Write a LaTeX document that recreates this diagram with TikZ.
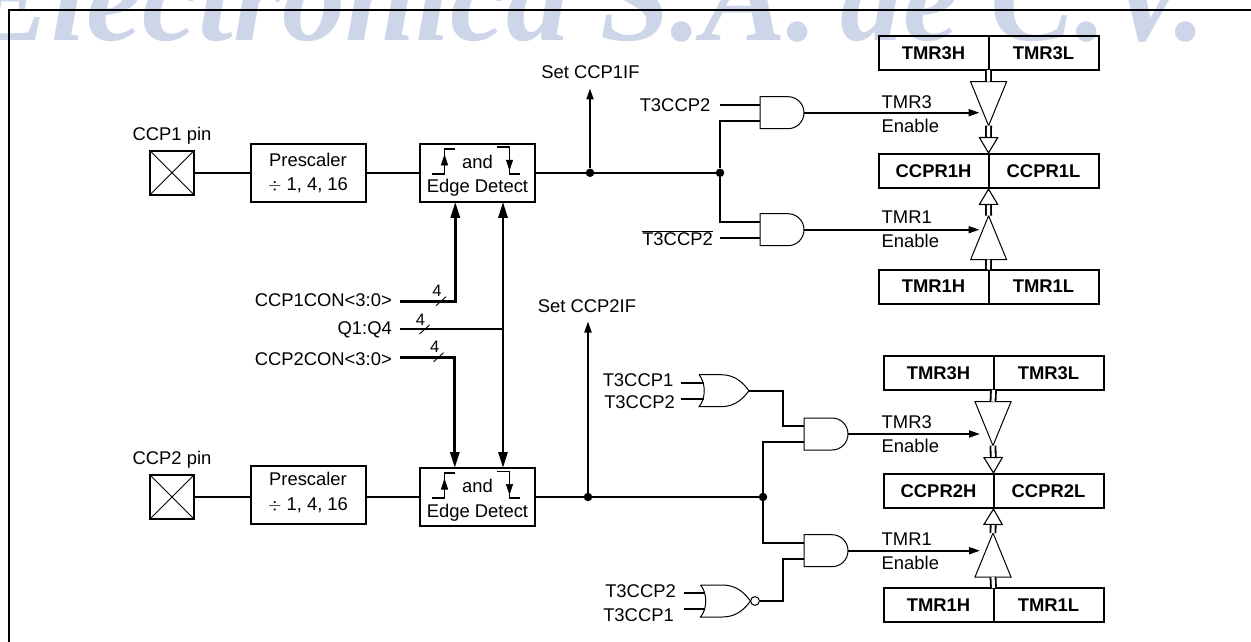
\documentclass[tikz,border=0pt]{standalone}
\usepackage{fontspec}
\setmainfont{Liberation Sans}
\newfontfamily\markfont{Liberation Serif}
\usepackage{xcolor}
\usepackage{tikz}
\usetikzlibrary{shapes.geometric, arrows.meta, positioning}
\definecolor{markblue}{HTML}{CDD6E8}
\tikzset{
  lbl/.style={inner sep=0pt, font=\fontsize{18.4}{24.5}\selectfont, align=center},
  wmark/.style={anchor=base east, inner sep=0pt, text=markblue, font=\fontsize{126}{126}\selectfont\markfont\bfseries\itshape},
  pin/.style={rectangle, draw, line width=2pt, minimum width=44pt, minimum height=44pt, inner sep=0pt, outer sep=0pt,
    path picture={\draw[line width=0.9pt] (path picture bounding box.north west)--(path picture bounding box.south east)
      (path picture bounding box.north east)--(path picture bounding box.south west);}},
  block/.style={rectangle, draw, line width=2pt, minimum width=115pt, minimum height=58pt, align=center, inner sep=0pt, outer sep=0pt, font=\fontsize{18.4}{24.5}\selectfont},
  reg/.style={rectangle, draw, line width=2pt, minimum width=110pt, minimum height=34pt, inner sep=0pt, outer sep=0pt, font=\fontsize{18.4}{22}\selectfont\bfseries},
  gatebox/.style={rectangle, minimum height=32pt, inner sep=0pt, outer sep=0pt},
  gateline/.style={line width=1pt},
  buf/.style={isosceles triangle, isosceles triangle stretches, draw, line width=1pt, minimum width=36pt, minimum height=44pt, inner sep=0pt, outer sep=0pt},
  dot/.style={circle, fill=black, minimum size=8.5pt, inner sep=0pt},
  wire/.style={line width=1.9pt},
  arr/.style={-{Triangle[length=11pt,width=7pt]}, line width=1.9pt},
  bus/.style={line width=2.8pt},
  busarr/.style={-{Triangle[length=16pt,width=9pt]}, line width=2.8pt},
  dbl/.style={double, double distance=3.2pt, line width=1.8pt},
  dblarr/.style={double, double distance=3.2pt, line width=1.8pt, -{Triangle[open, fill=white, length=17pt, width=20pt, line width=1.1pt]}},
}
\begin{document}
\begin{tikzpicture}[x=1pt,y=-1pt]
\useasboundingbox (0,0) rectangle (1251,642);
\node[wmark] (mark1) at (818,41) {Electronica S.A.};
\node[wmark] (mark2) at (1206,41) {de C.V.};
\draw[line width=1.8pt] (9,642) -- (9,10) -- (1251,10);

\node[pin] (pin1) at (172,172.8) {};
\node[block, right=56.5pt of pin1] (pre1) {Prescaler\\\(\div\) 1, 4, 16};
\node[block, right=54.5pt of pre1] (edge1) {};
\node[lbl] (edgetxt1) at ([yshift=-3pt]edge1.center) {and\\Edge Detect};
\node[lbl, above=6pt of pin1] (pinlbl1) {CCP1 pin};
\node[pin] (pin2) at (172,497) {};
\node[block, anchor=west] (pre2) at (250.5,494.5) {};
\node[lbl] (pretxt2) at ([yshift=2pt]pre2.center) {Prescaler\\\(\div\) 1, 4, 16};
\node[block, right=54.5pt of pin2 -| pre2.east] (edge2) {};
\node[lbl] (edgetxt2) at ([yshift=-3pt]edge2.center) {and\\Edge Detect};
\node[lbl, above=6pt of pin2] (pinlbl2) {CCP2 pin};

\foreach \e in {edge1,edge2} {
  \begin{scope}[shift={(\e.north west)}]
    \draw[wire] (11.5,30.3) -- (24.5,30.3) -- (24.5,5) -- (35,5);
    \draw[wire] (77,3.5) -- (89.5,3.5) -- (89.5,30.3) -- (100,30.3);
    \draw[-{Triangle[length=11pt,width=7pt]}, line width=0.6pt] (24.5,23) -- (24.5,10.5);
    \draw[-{Triangle[length=11pt,width=7pt]}, line width=0.6pt] (89.5,12) -- (89.5,27);
  \end{scope}
}

\node[dot] (j1) at (590,172.8) {};
\node[dot] (j2) at (720,172.8) {};
\node[dot] (j3) at (588,497) {};
\node[dot] (j4) at (763,497) {};
\draw[wire] (pin1) -- (pre1); \draw[wire] (pre1) -- (edge1); \draw[wire] (edge1) -- (j1); \draw[wire] (j1) -- (j2);
\draw[wire] (pin2) -- (pin2 -| pre2.west); \draw[wire] (pin2 -| pre2.east) -- (edge2); \draw[wire] (edge2) -- (j3); \draw[wire] (j3) -- (j4);

\node[lbl] (set1) at (590.5,72) {Set CCP1IF};
\node[lbl] (set2) at (587,306.5) {Set CCP2IF};
\coordinate (s1) at (590,88.5);
\coordinate (s2) at (588,321.5);
\draw[arr] (j1) -- (s1);
\draw[arr] (j3) -- (s2);

\node[lbl, anchor=east] (con1) at (392,300) {CCP1CON<3:0>};
\node[lbl, anchor=east] (qlbl) at (392,330) {Q1:Q4};
\node[lbl, anchor=east] (con2) at (392,359) {CCP2CON<3:0>};
\coordinate (c1w) at (400,301.3); \coordinate (c1t) at (455.3,301.3);
\coordinate (c2w) at (400,357.3); \coordinate (c2t) at (454.8,357.3);
\coordinate (qw) at (400,329); \coordinate (qj) at (503,329);
\draw[bus] (qw) -- (qj);
\draw[busarr] (c1w) -- (c1t) -- (c1t |- edge1.south);
\draw[busarr] (c2w) -- (c2t) -- (c2t |- edge2.north);
\draw[busarr, {Triangle[length=16pt,width=9pt]}-{Triangle[length=16pt,width=9pt]}] (qj |- edge1.south) -- (qj |- edge2.north);
\foreach \x/\y in {436/305.7, 419.5/334, 433.6/361.7} {
  \draw[line width=0.9pt] (\x,\y) -- ++(10,-9);
  \node[lbl, font=\fontsize{16.5}{18}\selectfont] (n\x) at (\x+1,\y-14.5) {4};
}

\node[gatebox, minimum width=44pt] (and1) at (782,112.7) {};
\node[gatebox, minimum width=44pt] (and2) at (782,229.7) {};
\node[gatebox, minimum width=44pt] (and3) at (826,434) {};
\node[gatebox, minimum width=44pt] (and4) at (826,550.7) {};
\node[gatebox, minimum width=50pt] (or1) at (724,390.7) {};
\node[gatebox, minimum width=59pt] (nor1) at (730,601) {};
\foreach \g in {and1,and2,and3,and4} {
  \begin{scope}[shift={(\g.center)}]
    \draw[gateline] (-22,-16) -- (6,-16) arc[start angle=90, end angle=-90, radius=16pt] -- (-22,16) -- cycle;
  \end{scope}
}
\begin{scope}[shift={(or1.west)}]
  \draw[gateline] (0,-16) -- (22,-16) .. controls (36,-16) and (44,-8) .. (50,0) .. controls (44,8) and (36,16) .. (22,16) -- (0,16) .. controls (7,8) and (7,-8) .. (0,-16);
\end{scope}
\begin{scope}[shift={(nor1.west)}]
  \draw[gateline] (0,-16) -- (22,-16) .. controls (36,-16) and (44,-8) .. (50,0) .. controls (44,8) and (36,16) .. (22,16) -- (0,16) .. controls (7,8) and (7,-8) .. (0,-16);
  \draw[gateline] (54.5,0) circle[radius=4.4pt];
\end{scope}

\coordinate (a1) at ([yshift=8pt]and1.west);
\coordinate (a2) at ([yshift=-8pt]and1.west);
\coordinate (a3) at ([yshift=8pt]and2.west);
\coordinate (a4) at ([yshift=-8pt]and2.west);
\coordinate (a5) at ([yshift=8pt]and3.west);
\coordinate (a6) at ([yshift=-8pt]and3.west);
\coordinate (a7) at ([yshift=8pt]and4.west);
\coordinate (a8) at ([yshift=-8pt]and4.west);
\coordinate (w1) at ([xshift=-40pt]a1);
\coordinate (w2) at ([xshift=-40pt]a4);
\draw[wire] (w1) -- (a1);
\draw[wire] (w2) -- (a4);
\draw[wire] (j2) |- (a2);
\draw[wire] (j2) |- (a3);
\draw[wire] (j4) |- (a6);
\draw[wire] (j4) |- (a7);
\coordinate (m1) at (783,390.7);
\coordinate (m2) at (783,601);
\draw[wire] (or1.east) -- (m1) |- (a5);
\draw[wire] (nor1.east) -- (m2) |- (a8);
\coordinate (o1) at ([xshift=4.5pt,yshift=8pt]or1.west);
\coordinate (o2) at ([xshift=4.5pt,yshift=-8pt]or1.west);
\coordinate (o3) at ([xshift=4.5pt,yshift=8pt]nor1.west);
\coordinate (o4) at ([xshift=4.5pt,yshift=-8pt]nor1.west);
\draw[wire] ([xshift=-22.5pt]o1) -- (o1);
\draw[wire] ([xshift=-22.5pt]o2) -- (o2);
\draw[wire] ([xshift=-21.5pt]o3) -- (o3);
\draw[wire] ([xshift=-21.5pt]o4) -- (o4);

\node[lbl, anchor=east] (t1) at (710.5,105) {T3CCP2};
\node[lbl, anchor=east] (t2) at (713,238) {\(\overline{\mbox{T3CCP2}}\)};
\node[lbl, anchor=east] (t3) at (673.5,380) {T3CCP1};
\node[lbl, anchor=east] (t4) at (675,402) {T3CCP2};
\node[lbl, anchor=east] (t5) at (676,590.7) {T3CCP2};
\node[lbl, anchor=east] (t6) at (674,615) {T3CCP1};

\node[reg] (tmr3ha) at (933.5,53) {TMR3H};
\node[reg, right=0pt of tmr3ha] (tmr3la) {TMR3L};
\node[reg] (ccp1h) at (933.5,171) {CCPR1H};
\node[reg, right=0pt of ccp1h] (ccp1l) {CCPR1L};
\node[reg] (tmr1ha) at (933.5,286.5) {TMR1H};
\node[reg, right=0pt of tmr1ha] (tmr1la) {TMR1L};
\node[reg] (tmr3hb) at (938.5,373) {TMR3H};
\node[reg, right=0pt of tmr3hb] (tmr3lb) {TMR3L};
\node[reg] (ccp2h) at (938.5,491) {CCPR2H};
\node[reg, right=0pt of ccp2h] (ccp2l) {CCPR2L};
\node[reg] (tmr1hb) at (938.5,605) {TMR1H};
\node[reg, right=0pt of tmr1hb] (tmr1lb) {TMR1L};

\node[buf, shape border rotate=-90, anchor=apex] (buf1) at (988.6,125.7) {};
\node[buf, shape border rotate=90, anchor=apex] (buf2) at (988.6,215.7) {};
\node[buf, shape border rotate=-90, anchor=apex] (buf3) at (993,445.7) {};
\node[buf, shape border rotate=90, anchor=apex] (buf4) at (993,533) {};

\draw[dbl] (tmr3ha.south east) -- (buf1.lower side);
\draw[dblarr] (buf1.apex) -- (ccp1h.north east);
\draw[dbl] (tmr1ha.north east) -- (buf2.lower side);
\draw[dblarr] (buf2.apex) -- (ccp1h.south east);
\draw[dbl] (tmr3hb.south east) -- (buf3.lower side);
\draw[dblarr] (buf3.apex) -- (ccp2h.north east);
\draw[dbl] (tmr1hb.north east) -- (buf4.lower side);
\draw[dblarr] (buf4.apex) -- (ccp2h.south east);

\coordinate (e1) at (979.5,112.7);
\coordinate (e2) at (979.5,229.7);
\coordinate (e3) at (980,434);
\coordinate (e4) at (980,550.7);
\draw[arr] (and1.east) -- (e1);
\draw[arr] (and2.east) -- (e2);
\draw[arr] (and3.east) -- (e3);
\draw[arr] (and4.east) -- (e4);

\node[lbl, anchor=west] (en1) at (881.5,102) {TMR3};
\node[lbl, anchor=west] (en2) at (881.5,126) {Enable};
\node[lbl, anchor=west] (en3) at (881.5,217.5) {TMR1};
\node[lbl, anchor=west] (en4) at (881.5,241) {Enable};
\node[lbl, anchor=west] (en5) at (881.5,422) {TMR3};
\node[lbl, anchor=west] (en6) at (881.5,446) {Enable};
\node[lbl, anchor=west] (en7) at (881.5,538.7) {TMR1};
\node[lbl, anchor=west] (en8) at (881.5,562.7) {Enable};
\end{tikzpicture}
\end{document}
